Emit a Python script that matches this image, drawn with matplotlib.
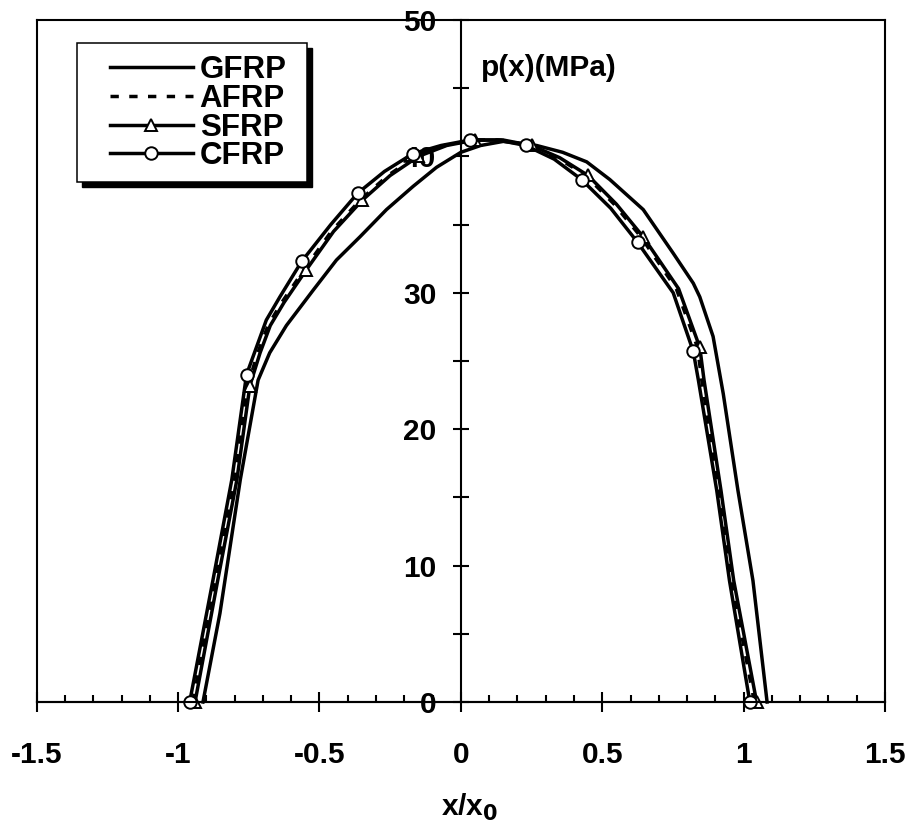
import numpy as np
import matplotlib
matplotlib.use('Agg')
import matplotlib.pyplot as plt
from matplotlib.patches import Rectangle
from matplotlib.ticker import MultipleLocator

plt.rcParams['font.family'] = ['Liberation Sans', 'DejaVu Sans']
plt.rcParams['font.weight'] = 'bold'

# 数据 (x/x0, p(x) MPa)
gfrp_x = [-0.912, -0.852, -0.78, -0.717, -0.676, -0.617, -0.522, -0.44, -0.357, -0.263, -0.169,
          -0.086, 0.0, 0.07, 0.15, 0.268, 0.36, 0.445, 0.527, 0.645, 0.751, 0.822, 0.845, 0.892,
          0.928, 0.98, 1.033, 1.083]
gfrp_y = [0.0, 6.5, 16.3, 23.6, 25.6, 27.6, 30.2, 32.4, 34.1, 36.1, 37.8,
          39.2, 40.3, 40.8, 41.1, 40.8, 40.3, 39.6, 38.3, 36.1, 32.9, 30.7, 29.7, 26.8,
          22.6, 15.5, 8.9, 0.0]

sfrp_x = [-0.94, -0.86, -0.792, -0.746, -0.71, -0.674, -0.625, -0.546, -0.45, -0.348, -0.25,
          -0.15, -0.05, 0.05, 0.15, 0.25, 0.35, 0.45, 0.55, 0.645, 0.77, 0.845, 0.86, 0.92,
          0.965, 1.046]
sfrp_y = [0.0, 8.9, 16.3, 23.2, 25.6, 27.6, 29.3, 31.7, 34.5, 36.8, 38.6,
          40.0, 40.8, 41.2, 41.2, 40.8, 39.9, 38.6, 36.5, 34.1, 30.3, 26.0, 23.6, 15.5,
          8.9, 0.0]

afrp_x = [v - 0.008 for v in sfrp_x]
afrp_y = list(sfrp_y)

cfrp_x = [-0.959, -0.877, -0.81, -0.758, -0.723, -0.688, -0.64, -0.563, -0.46, -0.365, -0.27,
          -0.17, -0.07, 0.032, 0.13, 0.229, 0.33, 0.427, 0.53, 0.625, 0.751, 0.822, 0.84, 0.905,
          0.95, 1.022]
cfrp_y = [0.0, 8.9, 16.3, 24.0, 26.0, 28.0, 29.7, 32.3, 35.0, 37.3, 38.9,
          40.2, 40.8, 41.2, 41.2, 40.8, 39.8, 38.3, 36.2, 33.7, 30.0, 25.7, 23.6, 15.5,
          8.9, 0.0]

# 标记点位置 (SFRP / CFRP 相同)
mark_idx = [0, 3, 7, 9, 11, 13, 15, 17, 19, 21, 25]

x_ticks = [-1.5, -1.0, -0.5, 0.0, 0.5, 1.0, 1.5]
x_labels = ['-1.5', '-1', '-0.5', '0', '0.5', '1', '1.5']
y_ticks = [0, 10, 20, 30, 40, 50]
y_labels = ['0', '10', '20', '30', '40', '50']

W, H = 913, 825
fig = plt.figure(figsize=(W / 100, H / 100), dpi=100)
rect = [36.7 / W, (H - 702) / H, 848.3 / W, 682 / H]

# 外框
frame = fig.add_axes(rect)
frame.set_xticks([])
frame.set_yticks([])
for s in frame.spines.values():
    s.set_linewidth(1.5)

ax = fig.add_axes(rect)
ax.patch.set_alpha(0)
ax.set_xlim(-1.5, 1.5)
ax.set_ylim(0, 50)

lw = 2.5
l1, = ax.plot(gfrp_x, gfrp_y, color='black', lw=lw, clip_on=False)
l2, = ax.plot(afrp_x, afrp_y, color='black', lw=lw, dashes=(2.4, 3.0), clip_on=False)
l3, = ax.plot(sfrp_x, sfrp_y, color='black', lw=lw, marker='^', ms=9, mfc='white', mec='black',
              mew=1.4, markevery=mark_idx, clip_on=False)
l4, = ax.plot(cfrp_x, cfrp_y, color='black', lw=lw, marker='o', ms=9, mfc='white', mec='black',
              mew=1.4, markevery=mark_idx, clip_on=False)

# 坐标轴: y 轴在 x=0 处
ax.spines['left'].set_position(('data', 0))
ax.spines['right'].set_visible(False)
ax.spines['top'].set_visible(False)
ax.spines['left'].set_linewidth(1.5)
ax.spines['bottom'].set_linewidth(1.5)

ax.set_xticks(x_ticks)
ax.set_xticklabels(x_labels)
ax.set_yticks(y_ticks)
ax.set_yticklabels(y_labels)
ax.xaxis.set_minor_locator(MultipleLocator(0.1))
ax.yaxis.set_minor_locator(MultipleLocator(5))
ax.tick_params(axis='x', which='major', direction='inout', length=14.5, width=1.5,
               labelsize=21.5, pad=21)
ax.tick_params(axis='x', which='minor', direction='in', length=5, width=1.5)
ax.tick_params(axis='y', which='both', direction='inout', length=11.5, width=1.5,
               labelsize=21.5, pad=12)
for t in ax.get_xticklabels() + ax.get_yticklabels():
    t.set_fontweight('bold')

ax.set_xlabel('x/x$_\\mathbf{0}$', fontsize=21.5, fontweight='bold', labelpad=16)
ax.xaxis.label.set_x(0.51)
ax.text(0.07, 46.5, 'p(x)(MPa)', fontsize=21.5, fontweight='bold', ha='left', va='center')

# 图例: 阴影框 + 图例
bx0, by0, bx1, by1 = 76.7, 43.3, 307, 181.7
sh = 5
fig.add_artist(Rectangle(((bx0 + sh) / W, 1 - (by1 + sh) / H), (bx1 - bx0) / W, (by1 - by0) / H,
                         transform=fig.transFigure, facecolor='black', edgecolor='black',
                         zorder=2))
fig.add_artist(Rectangle((bx0 / W, 1 - by1 / H), (bx1 - bx0) / W, (by1 - by0) / H,
                         transform=fig.transFigure, facecolor='white', edgecolor='black',
                         linewidth=1.1, zorder=2.1))
fig.legend([l1, l2, l3, l4], ['GFRP', 'AFRP', 'SFRP', 'CFRP'], loc='upper left',
           bbox_to_anchor=(110 / W, 1 - 55 / H), bbox_transform=fig.transFigure,
           borderaxespad=0, borderpad=0, frameon=False,
           prop={'size': 22.5, 'weight': 'bold'}, handlelength=2.65, handletextpad=0.22,
           labelspacing=-0.04).set_zorder(3)

fig.savefig('out.png', dpi=100, facecolor='white')
